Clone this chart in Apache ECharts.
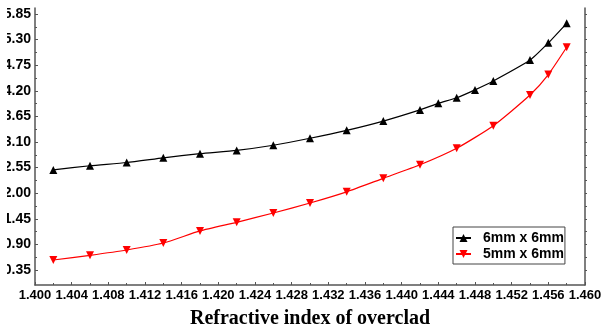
<!DOCTYPE html>
<html>
<head>
<meta charset="utf-8">
<script src="https://cdn.jsdelivr.net/npm/echarts@6/dist/echarts.min.js"></script>
<style>html,body{margin:0;padding:0;background:#fff}#c{width:609px;height:329px}</style>
</head>
<body>
<div id="c"></div>
<script>
var xBlack = [1.402,1.406,1.410,1.414,1.418,1.422,1.426,1.430,1.434,1.438,1.442,1.444,1.446,1.448,1.450,1.454,1.456,1.458];
var yBlack = [2.50,2.59,2.66,2.76,2.85,2.92,3.03,3.18,3.35,3.55,3.79,3.93,4.05,4.22,4.41,4.86,5.23,5.65];
var xRed = [1.402,1.406,1.410,1.414,1.418,1.422,1.426,1.430,1.434,1.438,1.442,1.446,1.450,1.454,1.456,1.458];
var yRed = [0.565,0.666,0.78,0.93,1.19,1.375,1.575,1.79,2.03,2.32,2.61,2.965,3.45,4.11,4.55,5.135];
var yTicks = [0.35,0.90,1.45,2.00,2.55,3.10,3.65,4.20,4.75,5.30,5.85];
var seriesNames = ['6mm x 6mm','5mm x 6mm'];
var xAxisName = 'Refractive index of overclad';

var yMinor = [];
for (var i = 0; i < yTicks.length - 1; i++) yMinor.push((yTicks[i] + yTicks[i+1]) / 2);
var yAll = yTicks.concat(yMinor);
function pairs(xs, ys){ return xs.map(function(x,i){ return [x, ys[i]]; }); }

var axisColor = '#555';
var yMin = 0.028, yMax = 5.979;
var chart = echarts.init(document.getElementById('c'));
chart.setOption({
  animation: false,
  grid: {left: 35, right: 24, top: 8, bottom: 44, containLabel: false, outerBoundsMode: 'none'},
  xAxis: {
    type: 'value', min: 1.400, max: 1.460, interval: 0.004,
    name: xAxisName, nameLocation: 'middle', nameGap: 24,
    nameTextStyle: {fontFamily: 'Liberation Serif, Times New Roman, serif', fontWeight: 'bold', fontSize: 20, color: '#000'},
    axisLine: {show: true, onZero: false, lineStyle: {color: axisColor, width: 1.5}},
    axisTick: {show: true, inside: true, length: 3, lineStyle: {color: axisColor}},
    minorTick: {show: true, splitNumber: 2, length: 2, lineStyle: {color: axisColor}},
    axisLabel: {margin: 4, fontFamily: 'Liberation Sans, Arial, sans-serif', fontWeight: 'bold', fontSize: 13, color: '#000',
      formatter: function(v){ return v.toFixed(3); }},
    splitLine: {show: false}
  },
  yAxis: [
    {
      type: 'value', position: 'left', min: yMin, max: yMax,
      axisLine: {show: true, lineStyle: {color: axisColor, width: 1.5}},
      axisTick: {show: true, inside: true, length: 3, customValues: yTicks, lineStyle: {color: axisColor}},
      axisLabel: {show: true, customValues: yTicks, margin: 4, fontFamily: 'Liberation Sans, Arial, sans-serif', fontWeight: 'bold', fontSize: 14, color: '#000',
        formatter: function(v){ return v.toFixed(2); }},
      splitLine: {show: false}
    },
    {
      type: 'value', position: 'left', min: yMin, max: yMax,
      axisLine: {show: false},
      axisTick: {show: true, inside: true, length: 2, customValues: yMinor, lineStyle: {color: axisColor}},
      axisLabel: {show: false},
      splitLine: {show: false}
    },
    {
      type: 'value', position: 'right', min: yMin, max: yMax,
      axisLine: {show: true, lineStyle: {color: axisColor, width: 1.5}},
      axisTick: {show: true, inside: false, length: 2, customValues: yAll, lineStyle: {color: axisColor}},
      axisLabel: {show: false},
      splitLine: {show: false}
    }
  ],
  legend: {
    left: 453, top: 227, orient: 'vertical',
    padding: [4, 1, 3, 2], itemGap: 2, itemWidth: 15, itemHeight: 10,
    borderColor: '#444', borderWidth: 1,
    textStyle: {fontFamily: 'Liberation Sans, Arial, sans-serif', fontWeight: 'bold', fontSize: 14, color: '#000', padding: [0,0,0,7]},
    data: seriesNames
  },
  graphic: [{type: 'rect', left: 0, top: 0, shape: {width: 7, height: 280}, style: {fill: '#fff'}, z: 100}],
  series: [
    {
      name: seriesNames[0], type: 'line', yAxisIndex: 0, data: pairs(xBlack, yBlack),
      smooth: 0.2, symbol: 'triangle', symbolSize: 8,
      lineStyle: {color: '#000', width: 1.2}, itemStyle: {color: '#000'}
    },
    {
      name: seriesNames[1], type: 'line', yAxisIndex: 0, data: pairs(xRed, yRed),
      smooth: 0.2, symbol: 'triangle', symbolRotate: 180, symbolSize: 8,
      lineStyle: {color: '#ff0000', width: 1.2}, itemStyle: {color: '#ff0000'}
    }
  ]
});
</script>
</body>
</html>
